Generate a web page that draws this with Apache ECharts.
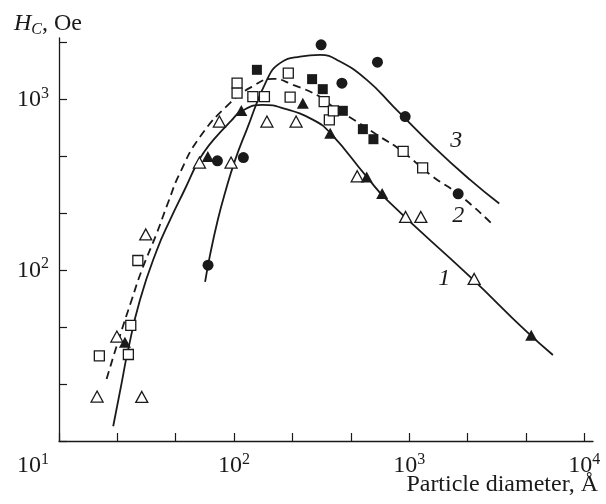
<!DOCTYPE html>
<html>
<head>
<meta charset="utf-8">
<script src="https://cdn.jsdelivr.net/npm/echarts@6/dist/echarts.min.js"></script>
<style>
html, body { margin: 0; padding: 0; background: #fff; }
#main { width: 606px; height: 504px; }
</style>
</head>
<body>
<div id="main"></div>
<script>
// [particle diameter (Å), Hc (Oe)]
let triOpen = [[16.5, 18.2], [21.4, 40.9], [29.7, 18.1], [31.3, 162], [63.4, 427], [82.4, 742], [96.1, 427],
  [154, 742], [226, 742], [505, 355], [954, 205], [1166, 205], [2351, 88.9]];
let triFill = [[23.8, 37.9], [70.8, 463], [110, 861], [247, 951], [354, 635], [572, 352], [701, 281], [4980, 41.6]];
let sqOpen = [[17.0, 31.5], [24.9, 32.1], [25.7, 47.5], [28.2, 114], [104, 1246], [104, 1089], [128, 1040],
  [149, 1040], [204, 1426], [209, 1032], [327, 972], [350, 759], [369, 858], [924, 497], [1194, 398]];
let sqFill = [[135, 1491], [279, 1315], [321, 1149], [418, 858], [544, 670], [625, 585]];
let circFill = [[71.0, 107], [80.3, 437], [113, 457], [314, 2089], [413, 1246], [659, 1654], [949, 794], [1905, 280]];

// fitted curves
let curve1 = [[20.4, 12.2], [22.8, 21.9], [24.6, 32.8], [29.0, 67.0], [36.2, 131], [43.1, 197], [52.5, 300],
  [61.2, 419], [66.8, 485], [76.2, 580], [96.1, 749], [111, 858], [146, 930], [196, 881], [283, 759],
  [354, 637], [573, 352], [746, 258], [2232, 91.4], [4706, 43.5], [6624, 31.9]];
let curve2 = [[18.7, 23.1], [21.9, 39.1], [26.0, 67.0], [29.7, 100], [36.2, 165], [42.1, 251], [49.1, 372],
  [63.9, 604], [94.9, 955], [126, 1185], [167, 1320], [217, 1218], [310, 1036], [368, 905], [505, 739],
  [683, 604], [889, 507], [1371, 352], [1905, 280], [2941, 189]];
let curve3 = [[68.3, 85.4], [72.9, 123], [81.0, 200], [88.8, 284], [101, 437], [118, 664], [154, 1302],
  [183, 1632], [238, 1784], [310, 1825], [403, 1667], [573, 1302], [813, 909], [1377, 530], [2232, 338], [3268, 246]];

// ticks every third of a decade, labels at decades
let xTicks = [10, 21.54, 46.42, 100, 215.4, 464.2, 1000, 2154, 4642, 10000];
let xLabels = [10, 100, 1000, 10000];
let yTicks = [10, 21.54, 46.42, 100, 215.4, 464.2, 1000, 2154];
let yLabels = [100, 1000];
let curveNames = ['1', '2', '3'];

let F = "'Liberation Serif', 'Times New Roman', serif";
let ink = '#1a1a1a';

let supRich = {
  b: { fontFamily: F, fontSize: 24, color: ink, lineHeight: 28 },
  p: { fontFamily: F, fontSize: 16, color: ink, lineHeight: 16, verticalAlign: 'top' },
  q: { fontFamily: F, fontSize: 16, color: ink, lineHeight: 16, verticalAlign: 'top', padding: [0, 52, 0, 0] }
};
function powLabel(v) {
  let e = Math.round(Math.log10(v));
  return '{b|10}{' + (e === 1 ? 'q' : 'p') + '|' + e + '}';
}

function lineSeries(data, dashed) {
  return {
    type: 'line', data: data, symbol: 'none', smooth: 0.5, z: 2, silent: true,
    lineStyle: { color: ink, width: 1.8, type: dashed ? [8, 5] : 'solid' }
  };
}
function dots(data, symbol, size, filled) {
  return {
    type: 'scatter', data: data, symbol: symbol, symbolSize: size, z: 4,
    itemStyle: { color: filled ? ink : '#fff', borderColor: ink, borderWidth: filled ? 0 : 1.3, opacity: 1 }
  };
}

let myChart = echarts.init(document.getElementById('main'));
let option = {
  animation: false,
  backgroundColor: '#fff',
  title: {
    text: '{i|H}{s|C}{n|, Oe}',
    left: 9, top: 5,
    textStyle: {
      fontWeight: 'normal',
      rich: {
        i: { fontFamily: F, fontSize: 24, fontStyle: 'italic', fontWeight: 'normal', color: ink, lineHeight: 28 },
        s: { fontFamily: F, fontSize: 16, fontStyle: 'italic', fontWeight: 'normal', color: ink, lineHeight: 16, verticalAlign: 'bottom' },
        n: { fontFamily: F, fontSize: 24, fontWeight: 'normal', color: ink, lineHeight: 28 }
      }
    }
  },
  graphic: [{
    type: 'text', right: 8, bottom: 7,
    style: { text: 'Particle diameter, Å', fontFamily: F, fontSize: 24, fill: ink }
  }],
  grid: { left: 59, right: 13, top: 38, bottom: 63, containLabel: false, outerBoundsMode: 'none' },
  xAxis: {
    type: 'log', logBase: 10, min: 10, max: 11220,
    axisLine: { lineStyle: { color: ink, width: 1.3 } },
    axisTick: { inside: true, length: 8, customValues: xTicks, lineStyle: { color: ink, width: 1.2 } },
    axisLabel: { customValues: xLabels, formatter: powLabel, rich: supRich, margin: 11 },
    splitLine: { show: false }
  },
  yAxis: {
    type: 'log', logBase: 10, min: 10, max: 2290,
    axisLine: { lineStyle: { color: ink, width: 1.3 } },
    axisTick: { inside: true, length: 8, customValues: yTicks, lineStyle: { color: ink, width: 1.2 } },
    axisLabel: { customValues: yLabels, formatter: powLabel, rich: supRich, margin: 10 },
    splitLine: { show: false }
  },
  series: [
    lineSeries(curve1, false),
    lineSeries(curve2, true),
    lineSeries(curve3, false),
    dots(triOpen, 'triangle', [12, 11], false),
    dots(triFill, 'triangle', [12, 11], true),
    dots(sqOpen, 'rect', 10, false),
    dots(sqFill, 'rect', 10, true),
    dots(circFill, 'circle', 11, true),
    {
      type: 'scatter', data: [], silent: true,
      markPoint: {
        symbol: 'circle', symbolSize: 1,
        itemStyle: { color: 'rgba(0,0,0,0)' },
        label: { show: true, fontFamily: F, fontSize: 24, fontStyle: 'italic', color: ink, formatter: '{b}' },
        data: [
          { name: curveNames[0], coord: [1585, 88.9] },
          { name: curveNames[1], coord: [1905, 208] },
          { name: curveNames[2], coord: [1858, 571] }
        ]
      }
    }
  ]
};
myChart.setOption(option);
</script>
</body>
</html>
